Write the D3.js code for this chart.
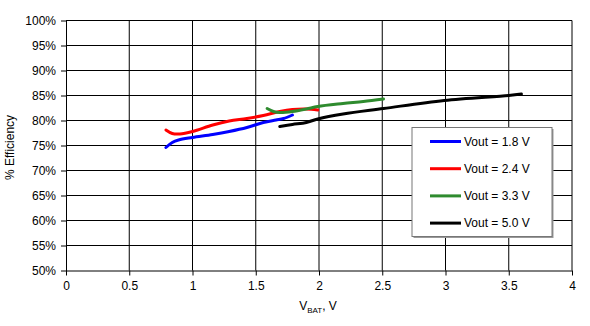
<!DOCTYPE html>
<html>
<head>
<meta charset="utf-8">
<script src="https://cdn.jsdelivr.net/npm/d3@7"></script>
<style>
  html, body { margin: 0; padding: 0; background: #fff; }
  svg { display: block; font-family: "Liberation Sans", Arial, sans-serif; }
</style>
</head>
<body>
<svg id="chart" width="590" height="326"></svg>
<script>
// Efficiency (%) versus battery voltage for each output voltage
const seriesNames = ["Vout = 1.8 V", "Vout = 2.4 V", "Vout = 3.3 V", "Vout = 5.0 V"];
const seriesColors = ["#0000ff", "#ff0000", "#2e8b2e", "#000000"];

const vbat18 = [0.79, 0.84, 0.89, 1.0, 1.16, 1.29, 1.43, 1.56, 1.66, 1.72, 1.79];
const eff18  = [74.6, 75.6, 76.1, 76.6, 77.2, 77.8, 78.6, 79.6, 80.1, 80.4, 81.1];

const vbat24 = [0.79, 0.84, 0.90, 1.0, 1.16, 1.29, 1.43, 1.56, 1.69, 1.79, 1.90, 1.99];
const eff24  = [78.1, 77.4, 77.3, 77.8, 79.1, 79.9, 80.4, 81.0, 81.8, 82.2, 82.3, 82.1];

const vbat33 = [1.59, 1.64, 1.69, 1.79, 1.90, 1.99, 2.19, 2.35, 2.51];
const eff33  = [82.4, 81.8, 81.6, 81.8, 82.3, 82.8, 83.4, 83.8, 84.3];

const vbat50 = [1.69, 1.79, 1.90, 1.99, 2.19, 2.51, 2.99, 3.50, 3.60];
const eff50  = [78.8, 79.2, 79.6, 80.3, 81.3, 82.4, 84.0, 85.0, 85.3];

const xTicks = [0, 0.5, 1, 1.5, 2, 2.5, 3, 3.5, 4];
const xTickLabels = ["0", "0.5", "1", "1.5", "2", "2.5", "3", "3.5", "4"];
const yTicks = [50, 55, 60, 65, 70, 75, 80, 85, 90, 95, 100];
const yTickLabels = ["50%", "55%", "60%", "65%", "70%", "75%", "80%", "85%", "90%", "95%", "100%"];

const series = [
  { name: seriesNames[0], color: seriesColors[0], x: vbat18, y: eff18 },
  { name: seriesNames[1], color: seriesColors[1], x: vbat24, y: eff24 },
  { name: seriesNames[2], color: seriesColors[2], x: vbat33, y: eff33 },
  { name: seriesNames[3], color: seriesColors[3], x: vbat50, y: eff50 }
];

const svg = d3.select("#chart");
const plotLeft = 66, plotRight = 572, plotTop = 20.5, plotBottom = 270.5;

const x = d3.scaleLinear().domain([0, 4]).range([plotLeft, plotRight]);
const y = d3.scaleLinear().domain([50, 100]).range([plotBottom, plotTop]);

// grid
const grid = svg.append("g");
grid.selectAll("line.h").data(yTicks.slice(1)).join("line")
  .attr("class", "h")
  .attr("x1", plotLeft).attr("x2", plotRight)
  .attr("y1", d => y(d)).attr("y2", d => y(d))
  .attr("stroke", "#000").attr("stroke-width", 1);
grid.selectAll("line.v").data(xTicks.slice(1)).join("line")
  .attr("class", "v")
  .attr("x1", d => x(d)).attr("x2", d => x(d))
  .attr("y1", plotTop).attr("y2", plotBottom)
  .attr("stroke", "#000").attr("stroke-width", 1);

// axes
const xAxis = d3.axisBottom(x).tickValues(xTicks)
  .tickFormat((d, i) => xTickLabels[i]).tickSize(5).tickSizeOuter(0).tickPadding(6);
const yAxis = d3.axisLeft(y).tickValues(yTicks)
  .tickFormat((d, i) => yTickLabels[i]).tickSize(5).tickSizeOuter(0).tickPadding(5);

const gx = svg.append("g").attr("transform", `translate(0,${plotBottom})`).call(xAxis);
const gy = svg.append("g").attr("transform", `translate(${plotLeft},0)`).call(yAxis);
[gx, gy].forEach(g => {
  g.select(".domain").attr("stroke", "#000").attr("stroke-width", 1);
  g.selectAll(".tick line").attr("stroke", "#000");
  g.selectAll(".tick text").attr("fill", "#000")
    .style("font-family", "'Liberation Sans', Arial, sans-serif").style("font-size", "12px");
});

// curves
const line = d3.line().x(d => x(d[0])).y(d => y(d[1])).curve(d3.curveCatmullRom.alpha(0.5));
svg.append("g").selectAll("path").data(series).join("path")
  .attr("d", s => line(s.x.map((v, i) => [v, s.y[i]])))
  .attr("fill", "none")
  .attr("stroke", s => s.color)
  .attr("stroke-width", 3)
  .attr("stroke-linecap", "round")
  .attr("stroke-linejoin", "round");

// axis titles
svg.append("text")
  .attr("transform", `translate(14,${(plotTop + plotBottom) / 2 + 2}) rotate(-90)`)
  .attr("text-anchor", "middle")
  .style("font-size", "12px")
  .text("% Efficiency");

const xt = svg.append("text")
  .attr("x", 318).attr("y", 310)
  .attr("text-anchor", "middle")
  .style("font-size", "12px");
xt.append("tspan").text("V");
xt.append("tspan").attr("dy", 3).style("font-size", "8px").text("BAT");
xt.append("tspan").attr("dy", -3).text(", V");

// legend
const lg = svg.append("g").attr("transform", "translate(412,127.5)");
lg.append("rect").attr("x", 1.5).attr("y", 1.5).attr("width", 140).attr("height", 109)
  .attr("fill", "#999");
lg.append("rect").attr("width", 140).attr("height", 109)
  .attr("fill", "#fff").attr("stroke", "#777").attr("stroke-width", 1);
const items = lg.selectAll("g.item").data(series).join("g")
  .attr("class", "item")
  .attr("transform", (d, i) => `translate(0,${14 + i * 27.2})`);
items.append("line")
  .attr("x1", 18).attr("x2", 49).attr("y1", 0).attr("y2", 0)
  .attr("stroke", d => d.color).attr("stroke-width", 3);
items.append("text")
  .attr("x", 52).attr("y", 0).attr("dy", "0.35em")
  .style("font-size", "12px")
  .text(d => d.name);
</script>
</body>
</html>
